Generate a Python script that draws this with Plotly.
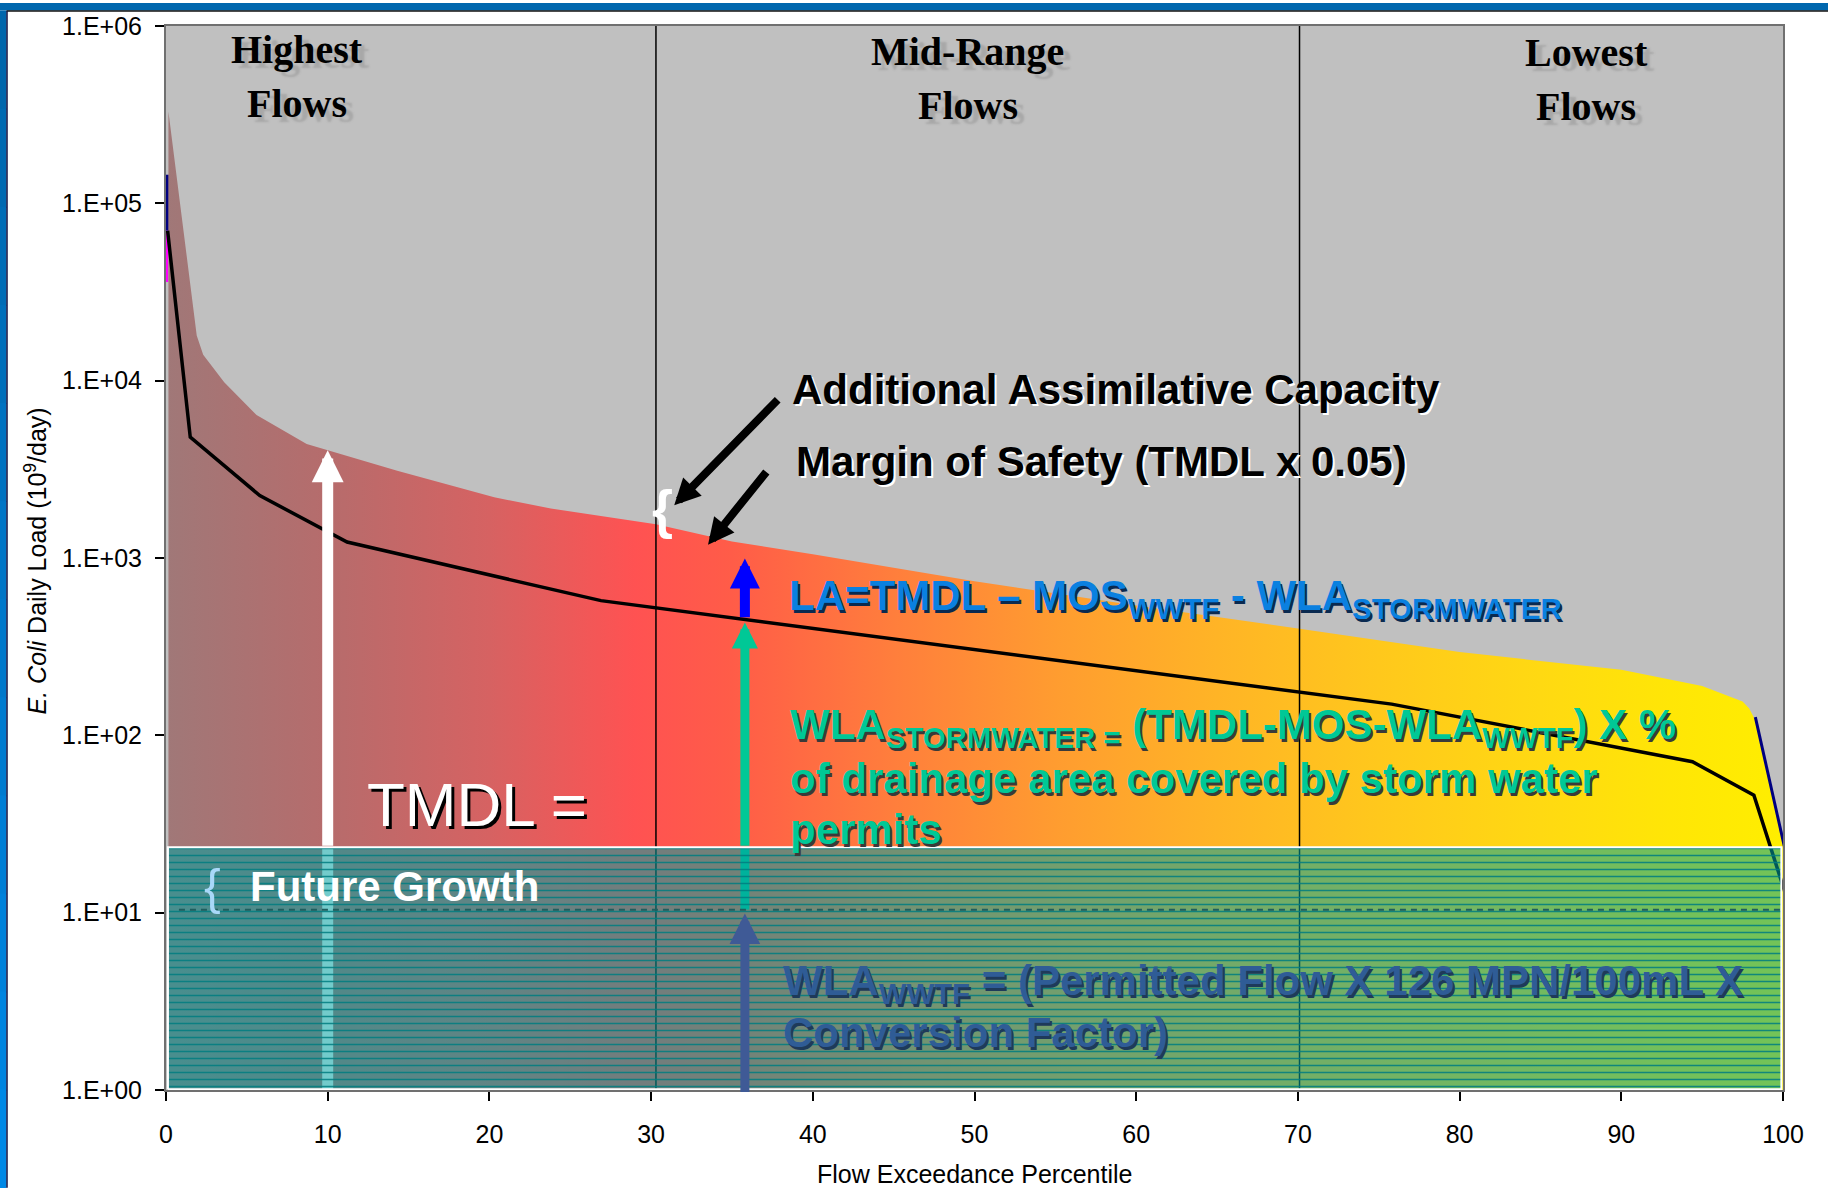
import math
import plotly.graph_objects as go

# ---------------- data ----------------
# TMDL curve (upper edge of the coloured area)
tmdl_pct = [0.15, 1.9, 2.3, 3.6, 5.6, 8.7, 14.3, 20.3, 23.8, 30.3, 35.0, 40.0, 50.0, 60.0,
            70.0, 80.0, 90.0, 95.0, 97.5, 97.9, 98.2, 99.1, 100.0]
tmdl_load = [3.3e5, 1.8e4, 1.4e4, 9.8e3, 6.4e3, 4.4e3, 3.1e3, 2.2e3, 1.9e3, 1.55e3, 1.24e3,
             1.05e3, 7.4e2, 5.4e2, 4.0e2, 2.95e2, 2.34e2, 1.9e2, 1.55e2, 1.42e2, 1.26e2,
             5.4e1, 2.34e1]

# black load line
line_pct = [0.1, 1.5, 5.8, 11.2, 26.9, 75.8, 94.4, 98.2, 100.45]
line_load = [7.0e4, 4.8e3, 2.25e3, 1.23e3, 5.75e2, 1.5e2, 7.1e1, 4.6e1, 1.05e1]

# small visible edges of other series
navy_left_pct = [0.05, 0.05]
navy_left_load = [7.0e4, 1.45e5]
magenta_left_pct = [0.05, 0.05]
magenta_left_load = [3.6e4, 7.0e4]
navy_right_pct = [98.2, 99.1, 100.0]
navy_right_load = [1.26e2, 5.4e1, 2.34e1]

# flow-zone boundaries
zone_bounds = [30.3, 70.1]
zone_labels = ["Highest<br>Flows", "Mid-Range<br>Flows", "Lowest<br>Flows"]

# allocation levels
future_growth_load = 23.4
wla_wwtf_load = 10.4
box_pct = [0.12, 99.9]

# arrow data (percentile, load)
tmdl_arrow = (10.0, 4.05e3)
wla_sw_arrow = (35.8, 433.0)
la_arrow = (35.8, 455.0, 993.0)
wwtf_arrow = (35.8, 0.955, 9.9)
aac_arrow = ((37.92, 7960.0), (31.43, 1986.0))
mos_arrow = ((37.2, 3119.0), (33.52, 1189.0))

x_ticks = list(range(0, 101, 10))
y_tickvals = [1, 10, 100, 1000, 10000, 100000, 1000000]
y_ticktext = ["1.E+00", "1.E+01", "1.E+02", "1.E+03", "1.E+04", "1.E+05", "1.E+06"]

# ---------------- layout helpers ----------------
W, H = 1828, 1188
L, R, T, B = 166, 1783, 23, 1090
SANS = "Liberation Sans, Arial, sans-serif"
SERIF = "Liberation Serif, Times New Roman, serif"


def px(xp):
    return (xp - L) / (R - L)


def py(yp):
    return (B - yp) / (B - T)


lg = math.log10

fig = go.Figure()

# edges of other series (partly hidden by the TMDL area)
fig.add_trace(go.Scatter(x=navy_left_pct, y=navy_left_load, mode="lines",
                         line=dict(color="#000080", width=4), hoverinfo="skip"))
fig.add_trace(go.Scatter(x=magenta_left_pct, y=magenta_left_load, mode="lines",
                         line=dict(color="#FF00FF", width=3), hoverinfo="skip"))
fig.add_trace(go.Scatter(x=navy_right_pct, y=navy_right_load, mode="lines",
                         line=dict(color="#000080", width=6), hoverinfo="skip"))

# gradient TMDL area
grad = [[0.0, "#A07878"], [0.1, "#B66C6C"], [0.2, "#D66262"], [0.29, "#FF5252"],
        [0.35, "#FF5C48"], [0.45, "#FF7E3C"], [0.55, "#FF9C30"], [0.65, "#FFB426"],
        [0.75, "#FFC81C"], [0.85, "#FFD912"], [0.93, "#FFE606"], [1.0, "#FFEE00"]]
fig.add_trace(go.Scatter(
    x=tmdl_pct + [tmdl_pct[-1], tmdl_pct[0]],
    y=tmdl_load + [1, 1],
    mode="lines", fill="toself", line=dict(width=0, color="rgba(0,0,0,0)"),
    fillgradient=dict(type="horizontal", colorscale=grad, start=0, stop=100),
    hoverinfo="skip"))

# zone boundaries
for b in zone_bounds:
    fig.add_trace(go.Scatter(x=[b, b], y=[1, 1e6], mode="lines",
                             line=dict(color="black", width=1.5), hoverinfo="skip"))

# black load line
fig.add_trace(go.Scatter(x=line_pct, y=line_load, mode="lines",
                         line=dict(color="black", width=3.5), hoverinfo="skip"))

# lower parts of arrows (seen through the box)
fig.add_trace(go.Scatter(x=[tmdl_arrow[0]] * 2, y=[1, future_growth_load], mode="lines",
                         line=dict(color="white", width=11), hoverinfo="skip"))
fig.add_trace(go.Scatter(x=[wla_sw_arrow[0]] * 2, y=[wla_wwtf_load, future_growth_load],
                         mode="lines", line=dict(color="#00C896", width=9), hoverinfo="skip"))

# future growth / WWTF box
fig.add_trace(go.Scatter(
    x=[box_pct[0], box_pct[1], box_pct[1], box_pct[0], box_pct[0]],
    y=[1.01, 1.01, future_growth_load, future_growth_load, 1.01],
    mode="lines", fill="toself", line=dict(color="white", width=2),
    fillcolor="rgba(0,160,160,0.55)",
    fillpattern=dict(shape="-", fgcolor="rgba(0,125,128,0.85)", bgcolor="rgba(0,160,160,0.55)",
                     size=7, solidity=0.22, fillmode="replace"),
    hoverinfo="skip"))

# WWTF dashed level
fig.add_trace(go.Scatter(x=[0.8, 100], y=[wla_wwtf_load] * 2, mode="lines",
                         line=dict(color="#1E5E5E", width=2, dash="6px,5px"), hoverinfo="skip"))

# small magenta marker at foot of WWTF arrow
fig.add_trace(go.Scatter(x=[wwtf_arrow[0]], y=[wwtf_arrow[1]], mode="markers", cliponaxis=False,
                         marker=dict(symbol="square", size=8, color="#800080"), hoverinfo="skip"))

ann = []


def arrow(tail, tip, color, width, size):
    ann.append(dict(x=tip[0], y=lg(tip[1]), ax=tail[0], ay=lg(tail[1]),
                    xref="x", yref="y", axref="x", ayref="y", text="", showarrow=True,
                    arrowhead=2, arrowwidth=width, arrowsize=size, arrowcolor=color, standoff=0))


arrow((tmdl_arrow[0], future_growth_load), tmdl_arrow, "white", 11, 0.58)
arrow((wla_sw_arrow[0], future_growth_load), wla_sw_arrow, "#00C896", 9, 0.58)
arrow((la_arrow[0], la_arrow[1]), (la_arrow[0], la_arrow[2]), "#0000FF", 10, 0.6)
arrow((wwtf_arrow[0], wwtf_arrow[1]), (wwtf_arrow[0], wwtf_arrow[2]), "#3F5A96", 9, 0.68)
arrow(aac_arrow[0], aac_arrow[1], "black", 8, 0.65)
arrow(mos_arrow[0], mos_arrow[1], "black", 8, 0.65)


def text(t, xp, yp, size, color, xanchor="left", family=SANS, shadow=None):
    f = dict(family=family, size=size, color=color)
    if shadow:
        f["shadow"] = shadow
    ann.append(dict(text=t, x=px(xp), y=py(yp), xref="paper", yref="paper",
                    xanchor=xanchor, yanchor="middle", showarrow=False, font=f))


# zone labels
for lab, cx, cy in zip(zone_labels, [297, 967.6, 1586], [74, 76, 77]):
    l1, l2 = lab.split("<br>")
    text("<b>%s</b>" % l1, cx, cy - 27, 40, "black", "center", SERIF,
         "7px 5px 2px rgba(140,140,140,0.45)")
    text("<b>%s</b>" % l2, cx, cy + 27, 40, "black", "center", SERIF,
         "7px 5px 2px rgba(140,140,140,0.45)")

text("<b>Additional Assimilative Capacity</b>", 790, 388, 42, "black",
     shadow="2px 2px 0px white")
text("<b>Margin of Safety (TMDL x 0.05)</b>", 794, 460, 42, "black",
     shadow="2px 2px 0px white")
text("<b>{</b>", 662, 507, 54, "white", "center")
text("<b>LA=TMDL – MOS<sub>WWTF</sub> - WLA<sub>STORMWATER</sub></b>", 787, 597, 42, "#0A80E0",
     shadow="2px 3px 0px #0A2A50")
text("<b>WLA<sub>STORMWATER =</sub> (TMDL-MOS-WLA<sub>WWTF</sub>) X %</b>", 788, 726, 42,
     "#00C896", shadow="2px 3px 0px #3A3A3A")
text("<b>of drainage area covered by storm water</b>", 788, 778, 42, "#00C896",
     shadow="2px 3px 0px #3A3A3A")
text("<b>permits</b>", 788, 829, 42, "#00C896", shadow="2px 3px 0px #3A3A3A")
text("TMDL =", 365, 804, 62, "white", shadow="3px 3px 0px black")
text("{", 212, 886, 50, "#A8D8F8", "center")
text("<b>Future Growth</b>", 248, 886, 42, "white")
text("<b>WLA<sub>WWTF</sub> = (Permitted Flow X 126 MPN/100mL X</b>", 781, 983, 42, "#2F5C96",
     shadow="2px 3px 0px #1E3A5A")
text("<b>Conversion Factor)</b>", 781, 1032, 42, "#2F5C96", shadow="2px 3px 0px #1E3A5A")

# axis titles
ann.append(dict(text="Flow Exceedance Percentile", x=px(975), y=py(1174), xref="paper",
                yref="paper", xanchor="center", yanchor="middle", showarrow=False,
                font=dict(family=SANS, size=25, color="black")))
ann.append(dict(text="<i>E. Coli</i> Daily Load (10<sup>9</sup>/day)", x=px(36), y=py(560),
                xref="paper", yref="paper", xanchor="center", yanchor="middle",
                showarrow=False, textangle=-90, font=dict(family=SANS, size=25, color="black")))

# blue slide frame (top and left)
shapes = []
shapes.append(dict(type="rect", xref="paper", yref="paper", x0=px(0), x1=px(W), y0=py(0),
                   y1=py(7.5), fillcolor="#0067AE", line=dict(width=0), layer="above"))
nseg = 12
for i in range(nseg):
    y0 = 7.5 + (H - 7.5) * i / nseg
    y1 = 7.5 + (H - 7.5) * (i + 1) / nseg
    f = i / (nseg - 1)
    col = "rgb(%d,%d,%d)" % (0, int(102 + 34 * f), int(172 + 58 * f))
    shapes.append(dict(type="rect", xref="paper", yref="paper", x0=px(0), x1=px(6.5),
                       y0=py(y0), y1=py(y1 + 1), fillcolor=col, line=dict(width=0),
                       layer="above"))
shapes.append(dict(type="line", xref="paper", yref="paper", x0=px(6.5), x1=px(W), y0=py(8),
                   y1=py(8), line=dict(color="#101010", width=1.5), layer="above"))
shapes.append(dict(type="line", xref="paper", yref="paper", x0=px(7), x1=px(7), y0=py(8),
                   y1=py(H), line=dict(color="#101040", width=1.5), layer="above"))

fig.update_layout(
    width=W, height=H,
    margin=dict(l=L, r=W - R, t=T, b=H - B),
    paper_bgcolor="white", plot_bgcolor="#C0C0C0",
    showlegend=False,
    annotations=ann, shapes=shapes,
    xaxis=dict(range=[0, 100], tickvals=x_ticks, ticks="outside", ticklen=9, tickwidth=1.5,
               tickcolor="black", showgrid=False, zeroline=False, showline=True,
               linecolor="#707070", linewidth=2, mirror=True, ticklabelstandoff=12,
               tickfont=dict(family=SANS, size=25, color="black")),
    yaxis=dict(type="log", range=[0, 6], tickvals=y_tickvals, ticktext=y_ticktext,
               ticks="outside", ticklen=9, tickwidth=1.5, tickcolor="black", showgrid=False,
               zeroline=False, showline=True, linecolor="#707070", linewidth=2, mirror=True,
               ticklabelstandoff=8, tickfont=dict(family=SANS, size=25, color="black")),
)

fig.write_html("out.html", config={"displayModeBar": False},
               post_script="document.body.style.margin='0px';"
                           "document.body.style.overflow='hidden';")
